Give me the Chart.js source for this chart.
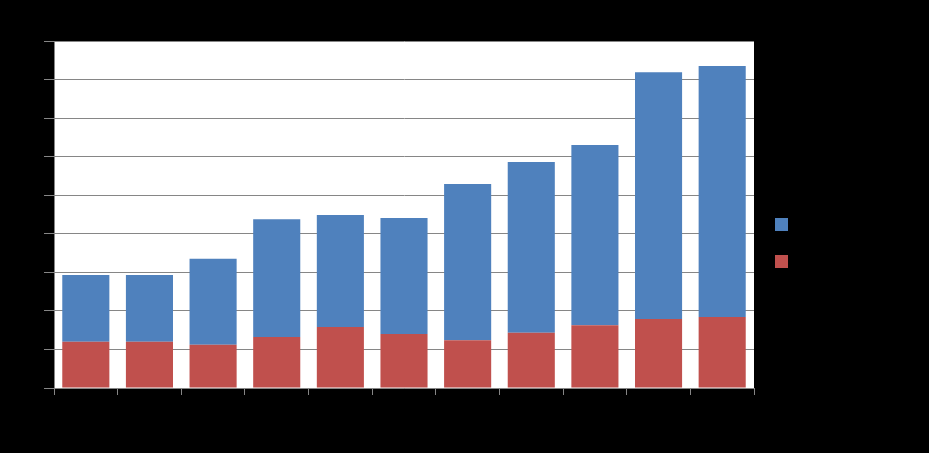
<!DOCTYPE html>
<html>
<head>
<meta charset="utf-8">
<script src="https://cdn.jsdelivr.net/npm/chart.js@4"></script>
<style>
html,body{margin:0;padding:0;background:#000;}
#wrap{width:929px;height:453px;position:relative;}
</style>
</head>
<body>
<div id="wrap"><canvas id="c" width="929" height="453"></canvas></div>
<script>
const categories = ["1","2","3","4","5","6","7","8","9","10","11"];
const seriesBottom = [12.0, 12.0, 11.2, 13.2, 15.8, 14.0, 12.4, 14.3, 16.3, 17.9, 18.4];
const seriesTop = [17.3, 17.3, 22.3, 30.6, 29.1, 30.1, 40.5, 44.3, 46.7, 64.0, 65.1];
const seriesNames = ["Series 1", "Series 2"];
const yTicks = [0, 10, 20, 30, 40, 50, 60, 70, 80, 90];

const bgPlugin = {
  id: 'bg',
  beforeDraw(chart) {
    const ctx = chart.ctx, a = chart.chartArea;
    ctx.save();
    ctx.fillStyle = '#000';
    ctx.fillRect(0, 0, chart.width, chart.height);
    ctx.fillStyle = '#fff';
    ctx.fillRect(a.left, a.top, a.right - a.left, a.bottom - a.top);
    ctx.restore();
  }
};

const legendPlugin = {
  id: 'sideLegend',
  afterDraw(chart) {
    const ctx = chart.ctx;
    const ds = chart.data.datasets.slice().reverse();
    ctx.save();
    ds.forEach((d, i) => {
      const y = 218 + i * 37;
      ctx.fillStyle = d.backgroundColor;
      ctx.fillRect(775, y, 13, 13);
      ctx.fillStyle = '#000';
      ctx.font = '13px "Liberation Sans", Arial';
      ctx.textBaseline = 'middle';
      ctx.fillText(d.label, 795, y + 7);
    });
    ctx.restore();
  }
};

new Chart(document.getElementById('c'), {
  type: 'bar',
  data: {
    labels: categories,
    datasets: [
      { label: seriesNames[0], data: seriesBottom, backgroundColor: '#C0504D', barPercentage: 0.74, categoryPercentage: 1 },
      { label: seriesNames[1], data: seriesTop, backgroundColor: '#4F81BD', barPercentage: 0.74, categoryPercentage: 1 }
    ]
  },
  options: {
    responsive: false,
    animation: false,
    devicePixelRatio: 1,
    layout: { padding: { left: 0, right: 175, top: 41, bottom: 0 } },
    plugins: { legend: { display: false }, tooltip: { enabled: false } },
    scales: {
      x: {
        stacked: true,
        grid: { offset: true, drawOnChartArea: false, color: '#868686', tickLength: 7 },
        border: { color: '#868686' },
        ticks: { color: '#000', font: { size: 12 } },
        afterFit(s) { s.height = 65; }
      },
      y: {
        stacked: true,
        min: 0, max: 90,
        afterBuildTicks(s) { s.ticks = yTicks.map(v => ({ value: v })); },
        grid: { color: '#868686', tickLength: 10 },
        border: { color: '#868686' },
        ticks: { color: '#000', font: { size: 12 } },
        afterFit(s) { s.width = 54; }
      }
    }
  },
  plugins: [bgPlugin, legendPlugin]
});
</script>
</body>
</html>
